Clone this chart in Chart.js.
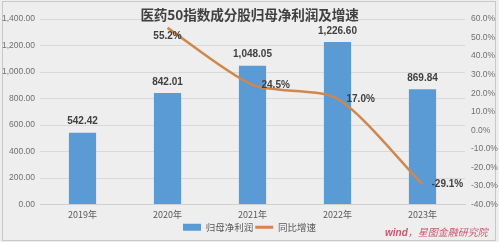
<!DOCTYPE html>
<html>
<head>
<meta charset="utf-8">
<script src="https://cdn.jsdelivr.net/npm/chart.js@4.4.1/dist/chart.umd.min.js"></script>
<style>
  body { margin: 0; background: #eeeeee; }
  #wrap { position: relative; width: 499px; height: 242px; overflow: hidden; }
  #frame { position: absolute; left: 2px; top: 1px; width: 494px; height: 240px; border: 1px solid #c8c8c8; box-sizing: border-box; }
  #title { position: absolute; left: 0; width: 499px; top: 4px; text-align: center; font: bold 13.6px "Noto Sans CJK SC", sans-serif; color: #404040; letter-spacing: -0.1px; }
  #source { position: absolute; left: 385px; top: 222px; color: #c9566f; font-style: italic; white-space: nowrap; }
  #source b { font: bold italic 10px "Liberation Sans", sans-serif; }
  #source span { font: italic 10px "Noto Sans CJK SC", serif; }
  canvas { position: absolute; left: 0; top: 0; }
</style>
</head>
<body>
<div id="wrap">
  <div id="frame"></div>
  <canvas id="chart" width="499" height="242"></canvas>
  <div id="title">医药50指数成分股归母净利润及增速</div>
  <div id="source"><b>wind</b><span>，星图金融研究院</span></div>
</div>
<script>
const years = ["2019年", "2020年", "2021年", "2022年", "2023年"];
const profit = [542.42, 842.01, 1048.05, 1226.6, 869.84];
const growth = [null, 55.2, 24.5, 17.0, -29.1];

const BLUE = "#5b9bd5";
const ORANGE = "#d0874d";
const sans = "'Liberation Sans', sans-serif";
const cjk = "'Noto Sans CJK SC', sans-serif";

// where each growth label sits relative to its point
const growthLabelSide = ["", "below", "right", "right", "right"];

const valueLabels = {
  id: "valueLabels",
  afterDatasetsDraw(chart) {
    const ctx = chart.ctx;
    ctx.save();
    ctx.font = "bold 10px " + sans;
    ctx.fillStyle = "#404040";
    ctx.textBaseline = "middle";

    chart.getDatasetMeta(0).data.forEach((bar, i) => {
      ctx.textAlign = "center";
      ctx.fillText(profit[i].toLocaleString("en-US", { minimumFractionDigits: 2 }), bar.x, bar.y - 11);
    });

    chart.getDatasetMeta(1).data.forEach((pt, i) => {
      if (growth[i] === null) return;
      const txt = growth[i].toFixed(1) + "%";
      if (growthLabelSide[i] === "below") {
        ctx.textAlign = "center";
        ctx.fillText(txt, pt.x, pt.y + 8);
      } else {
        ctx.textAlign = "left";
        ctx.fillText(txt, pt.x + 9, pt.y);
      }
    });
    ctx.restore();
  },
};

const chart = new Chart(document.getElementById("chart"), {
  data: {
    labels: years,
    datasets: [
      {
        type: "bar",
        label: "归母净利润",
        data: profit,
        backgroundColor: BLUE,
        yAxisID: "y",
        barPercentage: 0.32,
        categoryPercentage: 1,
        order: 2,
      },
      {
        type: "line",
        label: "同比增速",
        data: growth,
        borderColor: ORANGE,
        backgroundColor: ORANGE,
        borderWidth: 2.5,
        pointRadius: 0,
        tension: 0.25,
        yAxisID: "y1",
        order: 1,
      },
    ],
  },
  options: {
    responsive: false,
    animation: false,
    layout: { padding: { top: 19, left: 0, right: 0, bottom: 0 } },
    plugins: {
      title: { display: false },
      tooltip: { enabled: false },
      legend: {
        position: "bottom",
        labels: {
          usePointStyle: true,
          pointStyleWidth: 18,
          boxHeight: 7,
          padding: 2,
          color: "#595959",
          font: { size: 9.5, family: cjk },
          generateLabels(chart) {
            return chart.data.datasets.map((ds, i) => ({
              text: ds.label,
              fillStyle: ds.backgroundColor,
              strokeStyle: ds.type === "line" ? ds.borderColor : ds.backgroundColor,
              lineWidth: ds.type === "line" ? 3 : 0,
              pointStyle: ds.type === "line" ? "line" : "rect",
              fontColor: "#595959",
              datasetIndex: i,
            }));
          },
        },
      },
    },
    scales: {
      x: {
        grid: { display: false, drawTicks: false },
        border: { color: "#d0d0d0" },
        ticks: {
          padding: 5,
          color: "#595959",
          font: { size: 9, family: cjk },
        },
        afterFit: (s) => { s.height = 16; },
      },
      y: {
        position: "left",
        min: 0,
        max: 1400,
        ticks: {
          stepSize: 200,
          padding: 5,
          color: "#707070",
          font: { size: 8.5, family: sans },
          callback: (v) => v.toLocaleString("en-US", { minimumFractionDigits: 2, maximumFractionDigits: 2 }),
        },
        grid: { color: "#d9d9d9", drawTicks: false },
        border: { display: false },
        afterFit: (s) => { s.width = 40; },
      },
      y1: {
        position: "right",
        min: -40,
        max: 60,
        ticks: {
          stepSize: 10,
          padding: 6,
          color: "#707070",
          font: { size: 8.5, family: sans },
          callback: (v) => v.toFixed(1) + "%",
        },
        grid: { display: false, drawTicks: false },
        border: { display: false },
        afterFit: (s) => { s.width = 34; },
      },
    },
  },
  plugins: [valueLabels],
});
</script>
</body>
</html>
